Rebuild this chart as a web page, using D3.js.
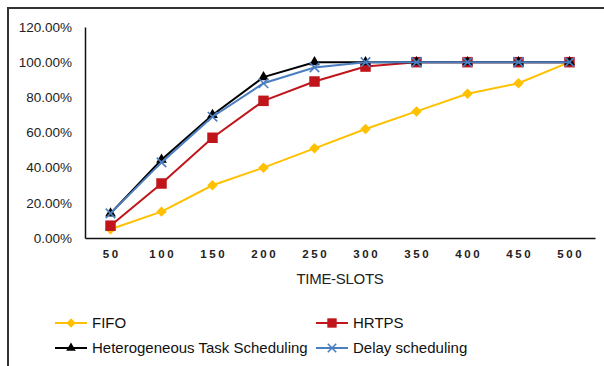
<!DOCTYPE html>
<html>
<head>
<meta charset="utf-8">
<script src="https://cdn.jsdelivr.net/npm/d3@7"></script>
<style>
  html, body { margin: 0; padding: 0; background: #fff; }
  svg { display: block; }
</style>
</head>
<body>
<svg id="chart" width="604" height="366"></svg>
<script>
// Completion ratio per scheduler at each time-slot count
const timeSlots = ["50", "100", "150", "200", "250", "300", "350", "400", "450", "500"];
const fifo = [0.05, 0.15, 0.30, 0.40, 0.51, 0.62, 0.72, 0.82, 0.88, 1.00];
const hrtps = [0.07, 0.31, 0.57, 0.78, 0.89, 0.975, 1.00, 1.00, 1.00, 1.00];
const hetero = [0.14, 0.445, 0.70, 0.915, 1.00, 1.00, 1.00, 1.00, 1.00, 1.00];
const delaySched = [0.14, 0.43, 0.69, 0.88, 0.97, 1.00, 1.00, 1.00, 1.00, 1.00];
const yTicks = [0, 0.2, 0.4, 0.6, 0.8, 1.0, 1.2];
const seriesNames = ["FIFO", "HRTPS", "Heterogeneous Task Scheduling", "Delay scheduling"];

const series = [
  { name: seriesNames[0], values: fifo, color: "#FFC000", marker: "diamond" },
  { name: seriesNames[1], values: hrtps, color: "#C0151B", marker: "square" },
  { name: seriesNames[2], values: hetero, color: "#000000", marker: "triangle" },
  { name: seriesNames[3], values: delaySched, color: "#4A7EC0", marker: "cross" }
];

const svg = d3.select("#chart");
const font = "'Liberation Sans', Arial, sans-serif";

// Chart frame
svg.append("rect")
  .attr("x", 8).attr("y", 8)
  .attr("width", 620).attr("height", 400)
  .attr("fill", "none").attr("stroke", "#333").attr("stroke-width", 2);

const plotLeft = 85, plotRight = 595, plotTop = 27, plotBottom = 238;

const x = d3.scaleBand().domain(timeSlots).range([plotLeft, plotRight]);
const y = d3.scaleLinear().domain([0, 1.2]).range([plotBottom, plotTop]);

// Y axis
const yAxis = svg.append("g")
  .attr("transform", `translate(${plotLeft},0)`)
  .call(d3.axisLeft(y).tickValues(yTicks).tickFormat(d3.format(".2%")).tickSize(0).tickPadding(13));
yAxis.select(".domain").attr("stroke", "#111").attr("stroke-width", 1.5);
yAxis.selectAll("text")
  .attr("font-family", font).attr("font-size", 13.5).attr("fill", "#222");

// X axis
const xAxis = svg.append("g")
  .attr("transform", `translate(0,${plotBottom})`)
  .call(d3.axisBottom(x).tickSize(0).tickPadding(12).tickSizeOuter(0));
xAxis.select(".domain").attr("stroke", "#111").attr("stroke-width", 1.5);
xAxis.selectAll("text")
  .attr("font-family", font).attr("font-size", 11.5).attr("fill", "#222")
  .attr("letter-spacing", 2.5).attr("font-weight", "bold")
  .attr("dx", 1.2);

svg.append("text")
  .attr("x", (plotLeft + plotRight) / 2).attr("y", 284)
  .attr("text-anchor", "middle")
  .attr("font-family", font).attr("font-size", 15).attr("fill", "#222")
  .attr("letter-spacing", -0.3)
  .text("TIME-SLOTS");

const cx = d => x(d) + x.bandwidth() / 2;

function drawMarker(g, type, px, py, color, scale = 1) {
  if (type === "diamond") {
    g.append("path")
      .attr("d", d3.symbol(d3.symbolDiamond2, 70 * scale)())
      .attr("transform", `translate(${px},${py})`)
      .attr("fill", color);
  } else if (type === "square") {
    g.append("path")
      .attr("d", d3.symbol(d3.symbolSquare, 110 * scale)())
      .attr("transform", `translate(${px},${py})`)
      .attr("fill", color);
  } else if (type === "triangle") {
    g.append("path")
      .attr("d", d3.symbol(d3.symbolTriangle, 50 * scale)())
      .attr("transform", `translate(${px},${py})`)
      .attr("fill", color);
  } else if (type === "cross") {
    g.append("path")
      .attr("d", d3.symbol(d3.symbolX, 60 * scale)())
      .attr("transform", `translate(${px},${py})`)
      .attr("fill", "none").attr("stroke", color).attr("stroke-width", 1.6);
  }
}

const line = d3.line().x((d, i) => cx(timeSlots[i])).y(d => y(d));

series.forEach(s => {
  const g = svg.append("g");
  g.append("path")
    .datum(s.values)
    .attr("d", line)
    .attr("fill", "none")
    .attr("stroke", s.color)
    .attr("stroke-width", 2);
  s.values.forEach((v, i) => drawMarker(g, s.marker, cx(timeSlots[i]), y(v), s.color));
});

// Legend
const legendPos = [[55, 323], [316, 323], [55, 348], [316, 348]];
series.forEach((s, i) => {
  const [lx, ly] = legendPos[i];
  const g = svg.append("g");
  g.append("line")
    .attr("x1", lx).attr("x2", lx + 32).attr("y1", ly).attr("y2", ly)
    .attr("stroke", s.color).attr("stroke-width", 2);
  drawMarker(g, s.marker, lx + 16, ly, s.color, 0.8);
  g.append("text")
    .attr("x", lx + 37).attr("y", ly).attr("dy", "0.35em")
    .attr("font-family", font).attr("font-size", 15).attr("fill", "#111")
    .text(s.name);
});
</script>
</body>
</html>
